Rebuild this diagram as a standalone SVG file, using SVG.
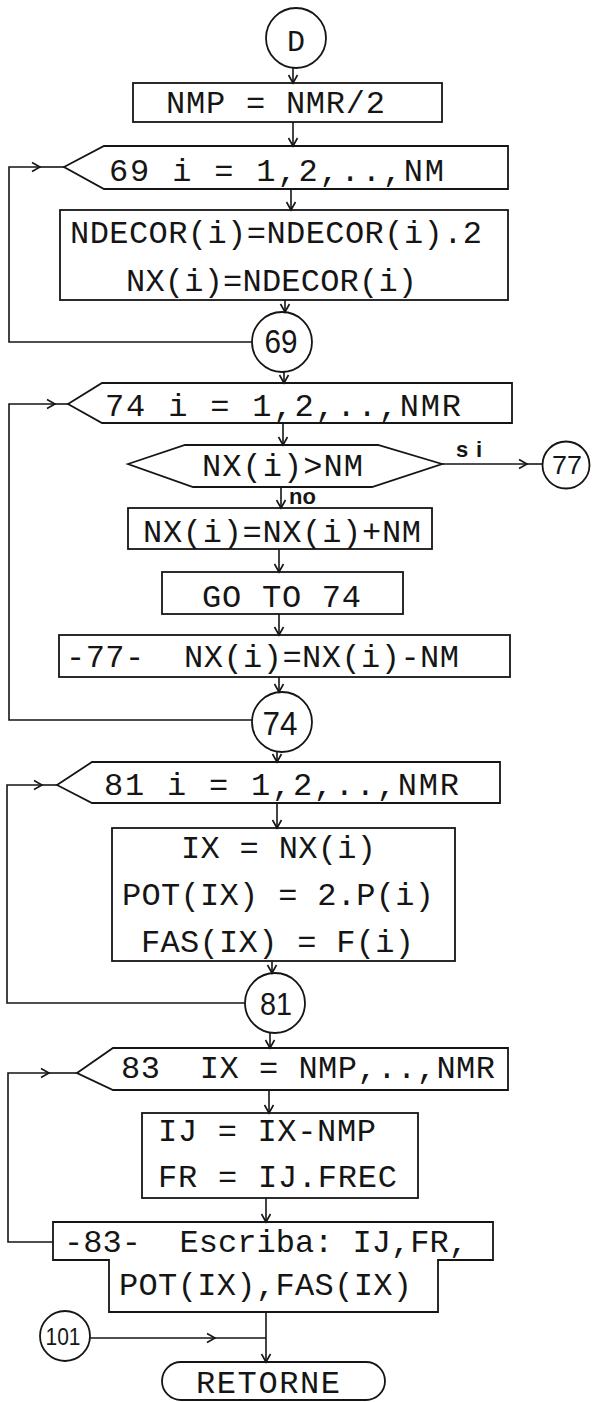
<svg xmlns="http://www.w3.org/2000/svg" width="592" height="1402" viewBox="0 0 592 1402">
<style>
  .s{fill:none;stroke:#151515;stroke-width:1.8;stroke-linejoin:miter}
  .c{fill:none;stroke:#151515;stroke-width:1.6}
  .t{font-family:"Liberation Mono","DejaVu Sans Mono",monospace;font-size:32px;fill:#151515;white-space:pre}
  .n{font-family:"Liberation Sans",Arial,sans-serif;fill:#151515;text-anchor:middle}
  .lb{font-family:"Liberation Sans",Arial,sans-serif;font-size:22px;font-weight:bold;fill:#151515}
</style>
<defs>
  <marker id="ah" viewBox="-10 -6 12 12" refX="0" refY="0" markerWidth="12" markerHeight="12" markerUnits="userSpaceOnUse" orient="auto">
    <path d="M-8,-4.5 L0,0 L-8,4.5" fill="none" stroke="#151515" stroke-width="1.6"/>
  </marker>
</defs>
<rect width="592" height="1402" fill="#fff"/>

<g id="connectors" class="c">
  <path d="M293,68 V83" marker-end="url(#ah)"/>
  <path d="M293,122 V146" marker-end="url(#ah)"/>
  <path d="M291,189 V210" marker-end="url(#ah)"/>
  <path d="M285,300 V312" marker-end="url(#ah)"/>
  <path d="M252,342 H9 V167 H40" marker-end="url(#ah)"/>
  <path d="M40,167 H64"/>
  <path d="M284,372 V383" marker-end="url(#ah)"/>
  <path d="M283,423 V445" marker-end="url(#ah)"/>
  <path d="M281,487 V508" marker-end="url(#ah)"/>
  <path d="M442,464 H527" marker-end="url(#ah)"/>
  <path d="M527,464 H543"/>
  <path d="M279,549 V572" marker-end="url(#ah)"/>
  <path d="M279,614 V635" marker-end="url(#ah)"/>
  <path d="M279,677 V692" marker-end="url(#ah)"/>
  <path d="M252,720 H9 V404 H55" marker-end="url(#ah)"/>
  <path d="M55,404 H68"/>
  <path d="M277,752 V762" marker-end="url(#ah)"/>
  <path d="M277,803 V828" marker-end="url(#ah)"/>
  <path d="M245,1003 H7 V785 H42" marker-end="url(#ah)"/>
  <path d="M42,785 H57"/>
  <path d="M272,961 V973" marker-end="url(#ah)"/>
  <path d="M270,1032 V1048" marker-end="url(#ah)"/>
  <path d="M269,1090 V1113" marker-end="url(#ah)"/>
  <path d="M53,1242 H8 V1073 H49" marker-end="url(#ah)"/>
  <path d="M49,1073 H77"/>
  <path d="M266,1198 V1222" marker-end="url(#ah)"/>
  <path d="M266,1312 V1362" marker-end="url(#ah)"/>
  <path d="M90,1338 H215" marker-end="url(#ah)"/>
  <path d="M215,1338 H266"/>
</g>

<g id="nD">
  <circle class="s" cx="296" cy="38" r="30"/>
  <text class="t" x="296" y="51" text-anchor="middle" style="font-size:30px">D</text>
</g>
<g id="nNMP">
  <rect class="s" x="133" y="83" width="309" height="39"/>
  <text class="t" x="166" y="113" textLength="219" lengthAdjust="spacing">NMP = NMR/2</text>
</g>
<g id="loop69">
  <polygon class="s" points="64,167 104,146 508,146 508,189 104,189"/>
  <text class="t" x="109" y="181" textLength="335" lengthAdjust="spacing">69 i = 1,2,..,NM</text>
</g>
<g id="nNDECOR">
  <rect class="s" x="60" y="210" width="448" height="90"/>
  <text class="t" x="70" y="243" textLength="412" lengthAdjust="spacing">NDECOR(i)=NDECOR(i).2</text>
  <text class="t" x="126" y="291" textLength="291" lengthAdjust="spacing">NX(i)=NDECOR(i)</text>
</g>
<g id="c69">
  <circle class="s" cx="282" cy="342" r="30"/>
  <text class="n" x="281" y="353" style="font-size:34px" textLength="33" lengthAdjust="spacingAndGlyphs">69</text>
</g>
<g id="loop74">
  <polygon class="s" points="68,404 102,383 512,383 512,423 102,423"/>
  <text class="t" x="105" y="416" textLength="356" lengthAdjust="spacing">74 i = 1,2,..,NMR</text>
</g>
<g id="dec">
  <polygon class="s" points="128,464 185,445 378,445 442,464 372,487 193,487"/>
  <text class="t" x="202" y="476" textLength="161" lengthAdjust="spacing">NX(i)&gt;NM</text>
  <text class="lb" x="456" y="457" textLength="26" lengthAdjust="spacing">si</text>
  <text class="lb" x="289" y="504">no</text>
</g>
<g id="c77">
  <circle class="s" cx="566" cy="465" r="23.5"/>
  <text class="n" x="567" y="474" style="font-size:26px" textLength="30" lengthAdjust="spacingAndGlyphs">77</text>
</g>
<g id="nAdd">
  <rect class="s" x="128" y="508" width="304" height="41"/>
  <text class="t" x="143" y="542" textLength="278" lengthAdjust="spacing">NX(i)=NX(i)+NM</text>
</g>
<g id="nGoto">
  <rect class="s" x="162" y="572" width="241" height="42"/>
  <text class="t" x="202" y="607" textLength="159" lengthAdjust="spacing">GO TO 74</text>
</g>
<g id="nSub">
  <rect class="s" x="59" y="635" width="451" height="42"/>
  <text class="t" x="66" y="667" textLength="393" lengthAdjust="spacing">-77-  NX(i)=NX(i)-NM</text>
</g>
<g id="c74">
  <circle class="s" cx="282" cy="722" r="30"/>
  <text class="n" x="280" y="735" style="font-size:34px" textLength="35" lengthAdjust="spacingAndGlyphs">74</text>
</g>
<g id="loop81">
  <polygon class="s" points="57,785 92,762 500,762 500,803 92,803"/>
  <text class="t" x="104" y="795" textLength="355" lengthAdjust="spacing">81 i = 1,2,..,NMR</text>
</g>
<g id="nIX">
  <rect class="s" x="112" y="828" width="343" height="133"/>
  <text class="t" x="181" y="858" textLength="195" lengthAdjust="spacing">IX = NX(i)</text>
  <text class="t" x="122" y="905" textLength="312" lengthAdjust="spacing">POT(IX) = 2.P(i)</text>
  <text class="t" x="141" y="952" textLength="273" lengthAdjust="spacing">FAS(IX) = F(i)</text>
</g>
<g id="c81">
  <circle class="s" cx="275" cy="1003" r="30"/>
  <text class="n" x="276" y="1015" style="font-size:31px" textLength="32" lengthAdjust="spacingAndGlyphs">81</text>
</g>
<g id="loop83">
  <polygon class="s" points="77,1073 113,1048 508,1048 508,1090 113,1090"/>
  <text class="t" x="121" y="1078" textLength="374" lengthAdjust="spacing">83  IX = NMP,..,NMR</text>
</g>
<g id="nIJ">
  <rect class="s" x="142" y="1113" width="276" height="85"/>
  <text class="t" x="158" y="1141" textLength="218" lengthAdjust="spacing">IJ = IX-NMP</text>
  <text class="t" x="158" y="1187" textLength="239" lengthAdjust="spacing">FR = IJ.FREC</text>
</g>
<g id="nEscriba">
  <path class="s" d="M53,1222 H493 V1260 H438 V1312 H109 V1260 H53 Z"/>
  <text class="t" x="64" y="1252" textLength="404" lengthAdjust="spacing">-83-  Escriba: IJ,FR,</text>
  <text class="t" x="119" y="1295" textLength="293" lengthAdjust="spacing">POT(IX),FAS(IX)</text>
</g>
<g id="c101">
  <circle class="s" cx="65" cy="1336" r="25"/>
  <text class="n" x="63" y="1345" style="font-size:24px" textLength="35" lengthAdjust="spacingAndGlyphs">101</text>
</g>
<g id="nRetorne">
  <rect class="s" x="162" y="1362" width="223" height="38" rx="19"/>
  <text class="t" x="196" y="1393" textLength="144" lengthAdjust="spacing">RETORNE</text>
</g>
</svg>
